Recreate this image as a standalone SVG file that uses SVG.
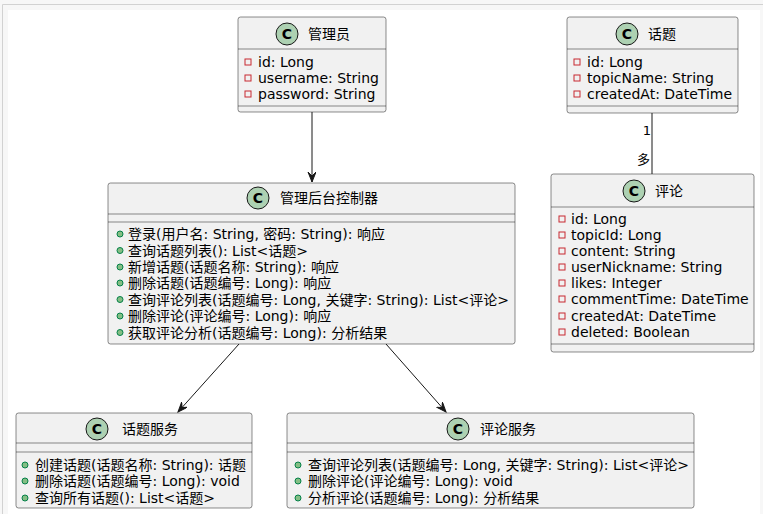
<svg xmlns="http://www.w3.org/2000/svg" width="763" height="514" viewBox="0 0 763 514">
<style>
text{font-family:"DejaVu Sans","Noto Sans CJK SC",sans-serif;font-size:14px;fill:#000}
.box{fill:#F1F1F1;stroke:#181818;stroke-width:0.5}
.sep{stroke:#181818;stroke-width:0.5}
.ci{fill:#ADD1B2;stroke:#181818;stroke-width:1}
.cl{font-family:"DejaVu Sans",sans-serif;font-weight:bold;font-size:14px}
.pri{fill:none;stroke:#C82930;stroke-width:1}
.pub{fill:#84BE84;stroke:#038048;stroke-width:1}
.edge{stroke:#181818;stroke-width:1;fill:none}
.lbl{font-size:13px}
</style>
<defs>
<marker id="arr" markerUnits="userSpaceOnUse" markerWidth="12" markerHeight="10" refX="10" refY="4" orient="auto" viewBox="0 0 12 10">
<path d="M0,0 L10,4 L0,8 L4,4 Z" fill="#181818" stroke="#181818" stroke-width="1"/>
</marker>
<g id="cC"><circle class="ci" r="11"/><text class="cl" x="0" y="5" text-anchor="middle">C</text></g>
</defs>
<rect width="763" height="514" fill="#f7f7f7"/>
<path d="M2.5,514 V4.5 H763" fill="none" stroke="#d2d2d2" stroke-width="1"/>
<rect x="8" y="10" width="752" height="504" fill="#ffffff"/>

<g id="connectors">
<path class="edge" d="M312,112 V182" marker-end="url(#arr)"/>
<path class="edge" d="M239,344 L178,412" marker-end="url(#arr)"/>
<path class="edge" d="M386,344 L446,412" marker-end="url(#arr)"/>
<path class="edge" d="M652,113 V174"/>
<text class="lbl" x="652" y="135" text-anchor="end" dx="-1">1</text>
<text class="lbl" x="650" y="164" text-anchor="end">多</text>
</g>

<g id="admin">
<rect class="box" x="238" y="17" width="148" height="95" rx="2.5"/>
<use href="#cC" x="287" y="34"/>
<text x="308" y="39">管理员</text>
<line class="sep" x1="238" y1="49" x2="386" y2="49"/>
<rect class="pri" x="245" y="59" width="6" height="6"/><text x="258" y="67">id: Long</text>
<rect class="pri" x="245" y="75" width="6" height="6"/><text x="258" y="83">username: String</text>
<rect class="pri" x="245" y="91" width="6" height="6"/><text x="258" y="99">password: String</text>
<line class="sep" x1="238" y1="106" x2="386" y2="106"/>
</g>

<g id="topic">
<rect class="box" x="567" y="17" width="171" height="96" rx="2.5"/>
<use href="#cC" x="627" y="34"/>
<text x="648" y="39">话题</text>
<line class="sep" x1="567" y1="49" x2="738" y2="49"/>
<rect class="pri" x="574" y="59" width="6" height="6"/><text x="587" y="67">id: Long</text>
<rect class="pri" x="574" y="75" width="6" height="6"/><text x="587" y="83">topicName: String</text>
<rect class="pri" x="574" y="91" width="6" height="6"/><text x="587" y="99">createdAt: DateTime</text>
<line class="sep" x1="567" y1="106" x2="738" y2="106"/>
</g>

<g id="comment">
<rect class="box" x="551" y="174" width="203" height="178" rx="2.5"/>
<use href="#cC" x="634" y="191"/>
<text x="655" y="196">评论</text>
<line class="sep" x1="551" y1="207" x2="754" y2="207"/>
<rect class="pri" x="559" y="216" width="6" height="6"/><text x="571" y="224">id: Long</text>
<rect class="pri" x="559" y="232" width="6" height="6"/><text x="571" y="240">topicId: Long</text>
<rect class="pri" x="559" y="248" width="6" height="6"/><text x="571" y="256">content: String</text>
<rect class="pri" x="559" y="264" width="6" height="6"/><text x="571" y="272">userNickname: String</text>
<rect class="pri" x="559" y="280" width="6" height="6"/><text x="571" y="288">likes: Integer</text>
<rect class="pri" x="559" y="296" width="6" height="6"/><text x="571" y="304">commentTime: DateTime</text>
<rect class="pri" x="559" y="313" width="6" height="6"/><text x="571" y="321">createdAt: DateTime</text>
<rect class="pri" x="559" y="329" width="6" height="6"/><text x="571" y="337">deleted: Boolean</text>
<line class="sep" x1="551" y1="344" x2="754" y2="344"/>
</g>

<g id="controller">
<rect class="box" x="108" y="183" width="407" height="161" rx="2.5"/>
<use href="#cC" x="258" y="198"/>
<text x="280" y="203">管理后台控制器</text>
<line class="sep" x1="108" y1="214" x2="515" y2="214"/>
<line class="sep" x1="108" y1="222" x2="515" y2="222"/>
<circle class="pub" cx="120" cy="234" r="3"/><text x="128" y="239">登录(用户名: String, 密码: String): 响应</text>
<circle class="pub" cx="120" cy="250.5" r="3"/><text x="128" y="255.5">查询话题列表(): List&lt;话题&gt;</text>
<circle class="pub" cx="120" cy="267" r="3"/><text x="128" y="272">新增话题(话题名称: String): 响应</text>
<circle class="pub" cx="120" cy="283" r="3"/><text x="128" y="288">删除话题(话题编号: Long): 响应</text>
<circle class="pub" cx="120" cy="299.5" r="3"/><text x="128" y="304.5">查询评论列表(话题编号: Long, 关键字: String): List&lt;评论&gt;</text>
<circle class="pub" cx="120" cy="316" r="3"/><text x="128" y="321">删除评论(评论编号: Long): 响应</text>
<circle class="pub" cx="120" cy="332.5" r="3"/><text x="128" y="337.5">获取评论分析(话题编号: Long): 分析结果</text>
</g>

<g id="topicService">
<rect class="box" x="16" y="413" width="236" height="95" rx="2.5"/>
<use href="#cC" x="97" y="429"/>
<text x="122" y="434">话题服务</text>
<line class="sep" x1="16" y1="443" x2="252" y2="443"/>
<line class="sep" x1="16" y1="452" x2="252" y2="452"/>
<circle class="pub" cx="25" cy="465" r="3"/><text x="35" y="470">创建话题(话题名称: String): 话题</text>
<circle class="pub" cx="25" cy="481" r="3"/><text x="35" y="486">删除话题(话题编号: Long): void</text>
<circle class="pub" cx="25" cy="498" r="3"/><text x="35" y="503">查询所有话题(): List&lt;话题&gt;</text>
</g>

<g id="commentService">
<rect class="box" x="287" y="413" width="407" height="95" rx="2.5"/>
<use href="#cC" x="458" y="429"/>
<text x="480" y="434">评论服务</text>
<line class="sep" x1="287" y1="443" x2="694" y2="443"/>
<line class="sep" x1="287" y1="452" x2="694" y2="452"/>
<circle class="pub" cx="298" cy="465" r="3"/><text x="308" y="470">查询评论列表(话题编号: Long, 关键字: String): List&lt;评论&gt;</text>
<circle class="pub" cx="298" cy="481" r="3"/><text x="308" y="486">删除评论(评论编号: Long): void</text>
<circle class="pub" cx="298" cy="498" r="3"/><text x="308" y="503">分析评论(话题编号: Long): 分析结果</text>
</g>
</svg>
